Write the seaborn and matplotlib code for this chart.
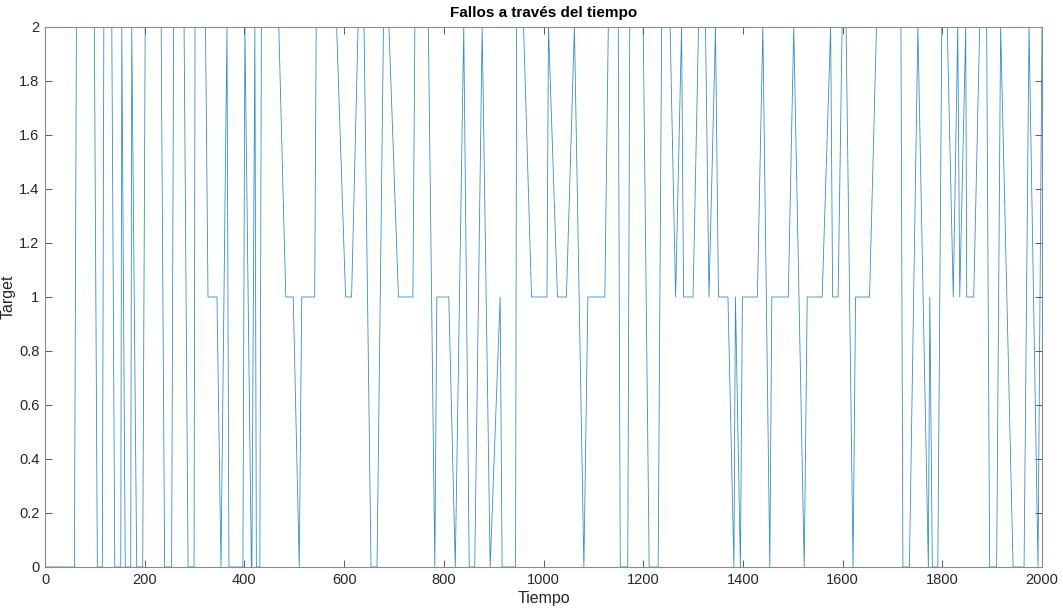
import numpy as np
import pandas as pd
import matplotlib
matplotlib.use("Agg")
import matplotlib.pyplot as plt
from matplotlib.ticker import FuncFormatter, MultipleLocator
import seaborn as sns

# Failure state over time (0 = none, 1 = partial, 2 = failure)
tiempo = [
    0, 59, 63, 99, 105, 115, 118, 134, 140, 152, 154, 161, 172, 174, 184, 196,
    201, 233, 240, 254, 258, 279, 287, 299, 301, 322,
    327, 345, 353, 365, 369, 397, 401, 414, 415, 421, 424, 431, 434, 469,
    483, 498, 510, 515, 541, 544, 585, 603, 615, 628, 640, 654,
    666, 679, 690, 709, 738, 742, 769, 782, 786, 810, 823, 840, 851, 862,
    877, 893, 913, 917, 944, 946, 960, 976, 1007,
    1010, 1028, 1046, 1062, 1081, 1089, 1123, 1130, 1150, 1154, 1169, 1173,
    1200, 1212, 1230, 1237, 1254, 1265, 1277, 1281, 1300, 1311, 1325, 1332,
    1345, 1351, 1370, 1382, 1385, 1395, 1399, 1429, 1440, 1454, 1458, 1491,
    1502, 1523, 1529, 1559, 1576, 1580, 1591, 1599, 1607, 1621, 1626, 1654,
    1668, 1717, 1721, 1734, 1751, 1772, 1775, 1780, 1791, 1799, 1810, 1822,
    1831, 1835, 1847, 1849, 1863, 1875, 1889, 1895, 1909, 1917, 1942, 1964,
    1974, 1992, 2000,
]
target = [
    0, 0, 2, 2, 0, 0, 2, 2, 0, 0, 2, 0, 0, 2, 0, 0,
    2, 2, 0, 0, 2, 2, 0, 0, 2, 2,
    1, 1, 0, 2, 0, 0, 2, 0, 0, 2, 0, 0, 2, 2,
    1, 1, 0, 1, 1, 2, 2, 1, 1, 2, 2, 0,
    0, 2, 2, 1, 1, 2, 2, 0, 1, 1, 0, 2, 0, 0,
    2, 0, 1, 0, 0, 2, 2, 1, 1,
    2, 1, 1, 2, 0, 1, 1, 2, 2, 0, 0, 2,
    2, 0, 0, 2, 2, 1, 2, 1, 1, 2, 2, 1,
    2, 1, 1, 0, 1, 0, 1, 1, 2, 0, 1, 1,
    2, 0, 1, 1, 2, 1, 1, 2, 2, 0, 1, 1,
    2, 2, 0, 0, 2, 0, 1, 0, 0, 2, 2, 1,
    2, 1, 2, 1, 1, 2, 2, 0, 0, 2, 0, 0,
    2, 0, 2,
]

df = pd.DataFrame({"Tiempo": tiempo, "Target": target})

sns.set_theme(style="white")
plt.rcParams["font.family"] = ["Liberation Sans", "DejaVu Sans"]

fig = plt.figure(figsize=(10.63, 6.08), dpi=100)
ax = fig.add_axes([45 / 1063, 1 - 567 / 608, (1042 - 45) / 1063, (567 - 27) / 608])

sns.lineplot(data=df, x="Tiempo", y="Target", ax=ax, estimator=None, sort=False,
             color="#0072BD", linewidth=0.6, alpha=0.8)

ax.set_xlim(0, 2000)
ax.set_ylim(0, 2)
ax.xaxis.set_major_locator(MultipleLocator(200))
ax.yaxis.set_major_locator(MultipleLocator(0.2))
ax.yaxis.set_major_formatter(FuncFormatter(lambda v, p: f"{v:g}"))

ax.tick_params(direction="in", length=5, width=0.6, colors="#404040",
               labelsize=10.5, top=True, right=True, bottom=True, left=True,
               labelcolor="#262626", pad=4)
for s in ax.spines.values():
    s.set_color("#8a8a8a")
    s.set_linewidth(0.8)

ax.set_title("Fallos a través del tiempo", fontsize=11, fontweight="bold",
             color="black", pad=7)
ax.set_xlabel("Tiempo", fontsize=11.5, color="#262626", labelpad=3)
ax.set_ylabel("Target", fontsize=11.5, color="#262626")
ax.yaxis.set_label_coords(-29 / 997, 0.5)

fig.savefig("out.png", dpi=100, facecolor="white")
